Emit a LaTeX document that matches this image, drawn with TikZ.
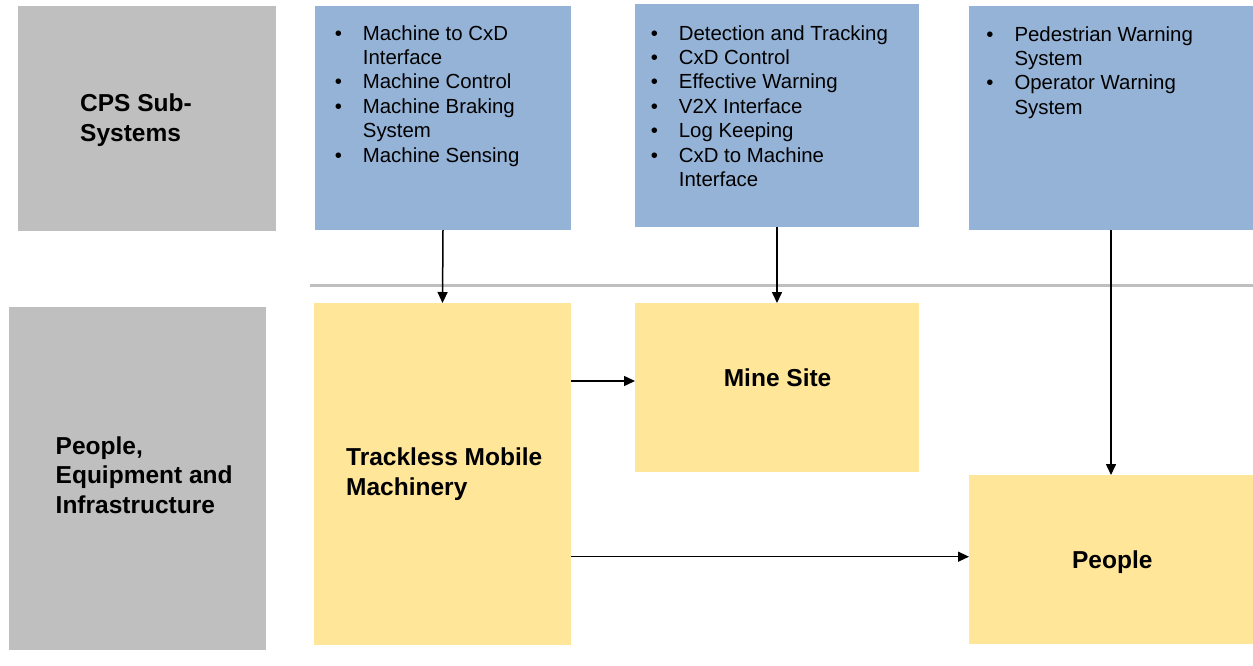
\documentclass[tikz,border=0pt]{standalone}
\usepackage{fontspec}
\setmainfont{Liberation Sans}
\usetikzlibrary{arrows.meta}
\definecolor{boxgray}{HTML}{BFBFBF}
\definecolor{boxblue}{HTML}{95B3D7}
\definecolor{boxyellow}{HTML}{FFE699}
\definecolor{linegray}{HTML}{BFBFBF}
\newcommand{\bl}{\makebox[0pt][r]{\textbullet\hspace{21pt}}}
\begin{document}
\begin{tikzpicture}[x=1pt,y=-1pt,
  panel/.style={fill=#1, draw=none, inner sep=0pt, outer sep=0pt},
  arr/.style={draw=black, line width=1.5pt, -{Triangle[length=11pt,width=10pt]}},
  hdr/.style={font=\fontsize{24.5}{29.5}\selectfont\bfseries, inner sep=0pt, anchor=base west},
  ctr/.style={font=\fontsize{24.5}{29.5}\selectfont\bfseries, inner sep=0pt, anchor=base},
  lst/.style={font=\fontsize{20.4}{24.45}\selectfont, inner sep=0pt, anchor=base west}]
\useasboundingbox (0,0) rectangle (1253,665);
\fill[white] (0,0) rectangle (1253,665);

% left category boxes
\node[panel=boxgray, minimum width=258pt, minimum height=225pt] (g1) at (147,118) {};
\node[panel=boxgray, minimum width=257pt, minimum height=343pt] (g2) at (137.5,478.5) {};

% blue sub-system boxes
\node[panel=boxblue, minimum width=256pt, minimum height=224pt] (b1) at (443,118) {};
\node[panel=boxblue, minimum width=284pt, minimum height=223pt] (b2) at (777,115.5) {};
\node[panel=boxblue, minimum width=284pt, minimum height=224pt] (b3) at (1111,118) {};

% yellow boxes
\node[panel=boxyellow, minimum width=257pt, minimum height=342pt] (tmm) at (442.5,474) {};
\node[panel=boxyellow, minimum width=284pt, minimum height=169pt] (mine) at (777,387.5) {};
\node[panel=boxyellow, minimum width=284pt, minimum height=169pt] (ppl) at (1111,559.5) {};

% separator
\coordinate (sepL) at (310,285.5);
\coordinate (sepR) at (1253,285.5);
\draw[linegray, line width=2.5pt] (sepL) -- (sepR);

% texts
\node[hdr] (t1) at (80,111.7) {\begin{tabular}[t]{@{}l@{}}CPS Sub-\\Systems\end{tabular}};
\node[hdr] (t2) at (55.5,454) {\begin{tabular}[t]{@{}l@{}}People,\\Equipment and\\Infrastructure\end{tabular}};
\node[hdr] (t3) at (346,465.7) {\begin{tabular}[t]{@{}l@{}}Trackless Mobile\\Machinery\end{tabular}};
\node[ctr] (t4) at (777.6,386.7) {Mine Site};
\node[ctr] (t5) at (1112.3,568.3) {People};

\node[lst] (l1) at (362.7,40) {\begin{tabular}[t]{@{}l@{}}
\bl Machine to CxD\\
Interface\\
\bl Machine Control\\
\bl Machine Braking\\
System\\
\bl Machine Sensing\end{tabular}};
\node[lst] (l2) at (678.7,40) {\begin{tabular}[t]{@{}l@{}}
\bl Detection and Tracking\\
\bl CxD Control\\
\bl Effective Warning\\
\bl V2X Interface\\
\bl Log Keeping\\
\bl CxD to Machine\\
Interface\end{tabular}};
\node[lst] (l3) at (1014.3,41) {\begin{tabular}[t]{@{}l@{}}
\bl Pedestrian Warning\\
System\\
\bl Operator Warning\\
System\end{tabular}};

% connectors
\coordinate (r1) at (571,381);
\coordinate (r2) at (571,556.7);
\draw[arr] (b1.south) -- (tmm.north);
\draw[arr] (b2.south) -- (mine.north);
\draw[arr] (b3.south) -- (ppl.north);
\draw[arr] (tmm.east |- r1) -- (mine.west |- r1);
\draw[arr] (tmm.east |- r2) -- (ppl.west |- r2);
\end{tikzpicture}
\end{document}
